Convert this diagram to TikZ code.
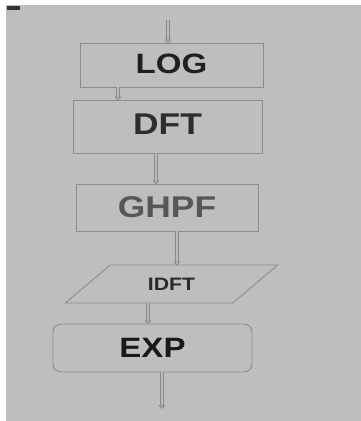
\documentclass[tikz,border=0pt]{standalone}
\usepackage{fontspec}
\setmainfont{Liberation Sans}
\usetikzlibrary{shapes.geometric,arrows.meta}
\definecolor{bg}{HTML}{BEBEBE}
\definecolor{edge}{HTML}{8C8C8C}
\definecolor{arr}{HTML}{8A8A8A}
\newcommand{\wide}[1]{\scalebox{1.18}[1]{#1}}
\tikzset{
  box/.style={draw=edge, line width=0.9pt, fill=bg, inner sep=0pt, font=\bfseries},
  flow/.style={draw=arr, line width=0.8pt, double=bg!106, double distance=2.4pt,
    -{Triangle[open,length=4pt,width=7pt]}, shorten >=-1pt},
}
\begin{document}
\begin{tikzpicture}[x=1pt,y=-1pt]
\useasboundingbox (0,0) rectangle (361,421);
\fill[white] (0,0) rectangle (361,421);
\fill[bg] (6,5) rectangle (361,421);
\fill[black!80] (7,6) rectangle (20,10);
\node[box, minimum width=183pt, minimum height=44pt, font=\bfseries\fontsize{28}{30}\selectfont, text=black!88] (LOG) at (171.5,65) {\raisebox{3pt}{\wide{LOG}}};
\node[box, minimum width=189pt, minimum height=53pt, font=\bfseries\fontsize{30}{32}\selectfont, text=black!82] (DFT) at (167.5,126.5) {\raisebox{4pt}{\wide{DFT}}};
\node[box, minimum width=182pt, minimum height=47pt, font=\bfseries\fontsize{30}{32}\selectfont, text=black!66] (GHPF) at (167,207.5) {\raisebox{1.5pt}{\wide{GHPF}}};
\node[box, shape=trapezium, trapezium left angle=35.6, trapezium right angle=144.4, trapezium stretches=true, minimum width=213pt, minimum height=38pt, font=\bfseries\fontsize{18}{20}\selectfont, text=black!84] (IDFT) at (171.5,284) {\raisebox{-2.7pt}{\wide{IDFT}}};
\node[box, rounded corners=8pt, minimum width=199pt, minimum height=48pt, font=\bfseries\fontsize{28}{30}\selectfont, text=black!90] (EXP) at (152.5,348) {\wide{EXP}};
\coordinate (in) at (168,20);
\coordinate (out) at (162,408);
\draw[flow] (in) -- (LOG.north -| in);
\draw[flow] (LOG.south -| 118,0) -- (DFT.north -| 118,0);
\draw[flow] (DFT.south -| 156,0) -- (GHPF.north -| 156,0);
\draw[flow] (GHPF.south -| 177,0) -- (IDFT.north -| 177,0);
\draw[flow] (IDFT.south -| 148,0) -- (EXP.north -| 148,0);
\draw[flow] (EXP.south -| out) -- (out);
\end{tikzpicture}
\end{document}
